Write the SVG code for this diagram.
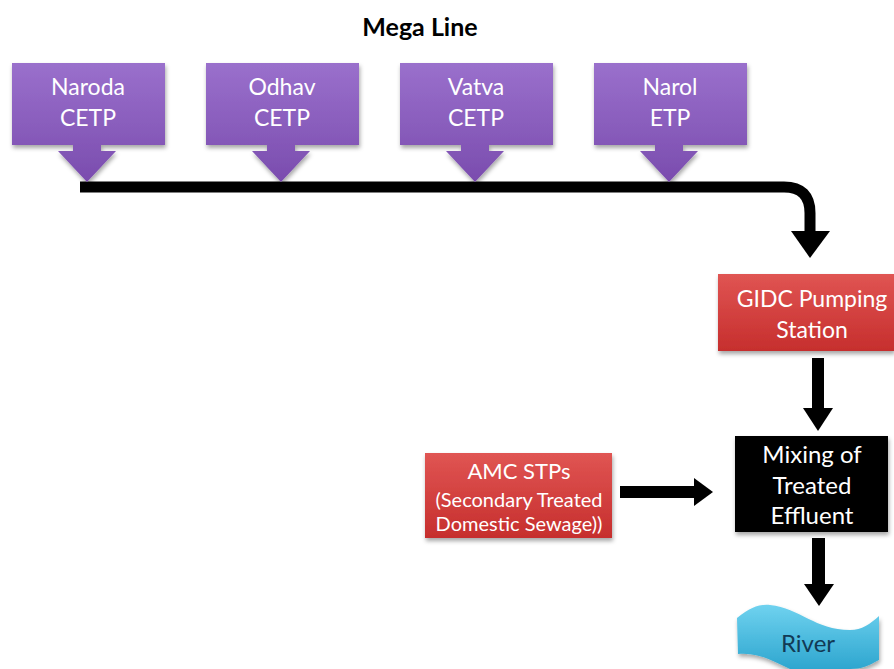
<svg xmlns="http://www.w3.org/2000/svg" width="894" height="669" viewBox="0 0 894 669">
<defs>
<linearGradient id="gp" x1="0" y1="0" x2="0" y2="1"><stop offset="0" stop-color="#9a70cc"/><stop offset="1" stop-color="#7a4cae"/></linearGradient>
<linearGradient id="gr" x1="0" y1="0" x2="0" y2="1"><stop offset="0" stop-color="#e05553"/><stop offset="1" stop-color="#c62e2d"/></linearGradient>
<linearGradient id="gb" x1="0" y1="0" x2="0" y2="1"><stop offset="0" stop-color="#6fd2ef"/><stop offset="1" stop-color="#2ea6cf"/></linearGradient>
<filter id="sh" x="-10%" y="-10%" width="125%" height="130%"><feDropShadow dx="1" dy="3" stdDeviation="2" flood-color="#000" flood-opacity="0.35"/></filter>
</defs>
<style>
.t{font-family:Lato,"Open Sans","Liberation Sans",sans-serif;fill:#fff;text-anchor:middle}
.p{fill:url(#gp);filter:url(#sh)}
.k{fill:#000}
</style>
<rect width="894" height="669" fill="#fff"/>
<text x="420" y="36" class="t" style="fill:#000;font-weight:bold;font-size:25px">Mega Line</text>

<g id="connectors">
<path d="M80 187 H784 Q810 187 810 213 V232" fill="none" stroke="#000" stroke-width="11"/>
<polygon points="791,231 830,231 810,258" class="k"/>
<rect x="812" y="358" width="12" height="52" class="k"/>
<polygon points="803,408 833,408 818,431" class="k"/>
<rect x="620" y="486" width="76" height="12" class="k"/>
<polygon points="694,478 713,492 694,506" class="k"/>
<rect x="812" y="538" width="13" height="48" class="k"/>
<polygon points="804,584 834,584 819,606" class="k"/>
</g>

<g id="naroda"><path class="p" d="M12 63 H165 V145 H101 V151 H116 L87 182 L58 151 H73 V145 H12 Z"/>
<text class="t" x="88" y="95" font-size="23">Naroda</text><text class="t" x="88" y="126" font-size="23">CETP</text></g>
<g id="odhav"><path class="p" d="M206 63 H359 V145 H295 V151 H310 L281 182 L252 151 H267 V145 H206 Z"/>
<text class="t" x="282" y="95" font-size="23">Odhav</text><text class="t" x="282" y="126" font-size="23">CETP</text></g>
<g id="vatva"><path class="p" d="M400 63 H553 V145 H489 V151 H504 L475 182 L446 151 H461 V145 H400 Z"/>
<text class="t" x="476" y="95" font-size="23">Vatva</text><text class="t" x="476" y="126" font-size="23">CETP</text></g>
<g id="narol"><path class="p" d="M594 63 H747 V145 H683 V151 H698 L669 182 L640 151 H655 V145 H594 Z"/>
<text class="t" x="670" y="95" font-size="23">Narol</text><text class="t" x="670" y="126" font-size="23">ETP</text></g>

<g id="gidc"><rect x="718" y="274" width="176" height="77" fill="url(#gr)" filter="url(#sh)"/>
<text class="t" x="812" y="307" font-size="23">GIDC Pumping</text><text class="t" x="812" y="338" font-size="23">Station</text></g>

<g id="mixing"><rect x="735" y="436" width="153" height="96" fill="#000" filter="url(#sh)"/>
<text class="t" x="812" y="463" font-size="24">Mixing of</text><text class="t" x="812" y="494" font-size="24">Treated</text><text class="t" x="812" y="524" font-size="24">Effluent</text></g>

<g id="amc"><rect x="425" y="453" width="187" height="85" fill="url(#gr)" filter="url(#sh)"/>
<text class="t" x="519" y="479" font-size="22">AMC STPs</text><text class="t" x="519" y="507" font-size="20">(Secondary Treated</text><text class="t" x="519" y="531" font-size="20">Domestic Sewage))</text></g>

<g id="river"><path d="M737 618 C750 608 758 604 770 605 C800 608 815 630 850 630 C862 630 870 624 879 616 L879 660 C868 666 862 669 850 669 L790 669 C775 662 758 652 738 654 Z" fill="url(#gb)" filter="url(#sh)"/>
<text class="t" x="808" y="652" font-size="24" style="fill:#123a55">River</text></g>
</svg>
